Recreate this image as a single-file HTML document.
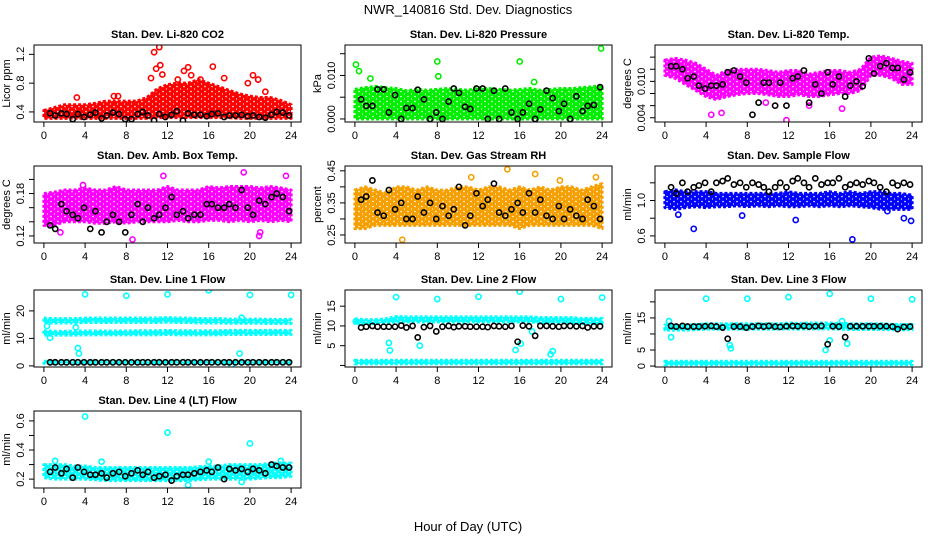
<!DOCTYPE html>
<html><head><meta charset="utf-8">
<style>
html,body{margin:0;padding:0;background:#fff;}
svg{display:block;font-family:"Liberation Sans",Arial,sans-serif;}
</style></head>
<body>
<svg id="chart" width="936" height="540" viewBox="0 0 936 540" xmlns="http://www.w3.org/2000/svg">
<rect width="936" height="540" fill="#fff"/>
<text x="468" y="14" text-anchor="middle" font-size="13">NWR_140816  Std. Dev. Diagnostics</text>
<text x="468" y="531" text-anchor="middle" font-size="13">Hour of Day (UTC)</text>
</svg>
<script>
// ---------- data ----------
const bandHours = [0,1,2,3,4,5,6,7,8,9,10,11,12,13,14,15,16,17,18,19,20,21,22,23,24];
const xTickLabels = ["0","4","8","12","16","20","24"];
const blackHours = [0.6,1.1,1.7,2.2,2.8,3.3,3.9,4.5,5.0,5.6,6.1,6.7,7.3,7.9,8.5,9.1,9.6,10.1,10.7,11.2,11.8,12.4,12.9,13.5,14.0,14.6,15.2,15.8,16.3,16.9,17.5,18.0,18.6,19.2,19.8,20.3,20.9,21.5,22.1,22.6,23.2,23.8];

// P1 CO2
const co2Lo = [0.31,0.31,0.31,0.31,0.31,0.31,0.31,0.31,0.31,0.31,0.31,0.32,0.32,0.32,0.32,0.32,0.32,0.32,0.32,0.31,0.31,0.31,0.31,0.31,0.31];
const co2Hi = [0.42,0.46,0.5,0.5,0.5,0.52,0.55,0.55,0.55,0.55,0.6,0.72,0.78,0.8,0.8,0.85,0.8,0.75,0.7,0.65,0.62,0.6,0.6,0.56,0.5];
const co2OutX = [10.7,11.2,11.3,10.9,11.5,10.4,13.6,14.0,14.3,16.4,17.5,19.8,20.3,20.8,3.2,6.8,7.2,21.5,13.0,15.2];
const co2OutY = [1.23,1.30,1.05,1.00,0.92,0.87,0.97,1.02,0.91,1.03,0.87,0.80,0.91,0.85,0.60,0.62,0.62,0.68,0.85,0.85];
const co2Black = [0.38,0.35,0.38,0.37,0.30,0.37,0.33,0.36,0.39,0.31,0.35,0.39,0.37,0.30,0.30,0.37,0.40,0.35,0.28,0.37,0.33,0.36,0.41,0.28,0.38,0.36,0.36,0.34,0.37,0.38,0.33,0.35,0.35,0.36,0.34,0.35,0.33,0.32,0.36,0.40,0.39,0.35];
// P2 Pressure
const presLo = [0,0,0,0,0,0,0,0,0,0,0,0,0,0,0,0,0,0,0,0,0,0,0,0,0];
const presHi = [0.0068,0.0072,0.0075,0.0072,0.007,0.0065,0.0068,0.0066,0.0068,0.007,0.0068,0.0066,0.0072,0.007,0.0068,0.0066,0.0068,0.007,0.0066,0.0068,0.007,0.007,0.0072,0.0074,0.0076];
const presOutX = [0.1,0.4,1.5,8.0,8.1,16.0,17.4,23.9];
const presOutY = [0.0125,0.0110,0.0093,0.0132,0.0098,0.0132,0.0085,0.0162];
const presBlack = [0.0045,0.003,0.003,0.0068,0.0068,0.0015,0.0055,0,0.0025,0.0025,0.0067,0.0045,0,0.0015,0,0.004,0.007,0.006,0.0028,0.0023,0.007,0.007,0,0.0065,0,0.007,0.0015,0,0.0015,0.0035,0,0.0022,0.0065,0.0048,0.0018,0.0035,0,0.0052,0.0018,0.003,0.0032,0.0073];
// P3 Temp
const tempLo = [0.011,0.0105,0.0095,0.0085,0.0075,0.007,0.0075,0.0078,0.008,0.008,0.0078,0.0075,0.0075,0.0078,0.0075,0.0075,0.0078,0.008,0.008,0.0085,0.011,0.011,0.0105,0.0095,0.0095];
const tempHi = [0.0135,0.0138,0.0135,0.013,0.012,0.011,0.0118,0.012,0.012,0.012,0.0118,0.0115,0.0118,0.0118,0.0112,0.0115,0.0118,0.0118,0.0115,0.012,0.014,0.0142,0.0138,0.0133,0.013];
const tempOutX = [4.5,5.5,11.8,17.2,3.8,9.8,14.0];
const tempOutY = [0.0045,0.0048,0.0036,0.0055,0.0095,0.0065,0.006];
const tempBlack = [0.0125,0.0125,0.012,0.0105,0.0108,0.0093,0.0088,0.0093,0.0093,0.0095,0.0115,0.0118,0.0108,0.0098,0.0045,0.0065,0.0098,0.0098,0.0060,0.0098,0.006,0.0105,0.0108,0.0118,0.0065,0.0095,0.0080,0.0115,0.0095,0.0108,0.0075,0.0093,0.0100,0.0092,0.0138,0.0113,0.0125,0.0130,0.0122,0.0122,0.0103,0.0115];
// P4 Amb box temp
const ambLo = [0.135,0.135,0.14,0.14,0.14,0.138,0.138,0.14,0.138,0.14,0.14,0.14,0.14,0.142,0.14,0.14,0.142,0.142,0.14,0.142,0.14,0.142,0.14,0.142,0.14];
const ambHi = [0.18,0.182,0.185,0.185,0.188,0.185,0.185,0.19,0.185,0.185,0.185,0.185,0.19,0.185,0.185,0.185,0.19,0.188,0.19,0.19,0.19,0.188,0.19,0.188,0.185];
const ambOutX = [8.6,19.4,23.5,3.8,1.6,11.6,21.0,20.9];
const ambOutY = [0.115,0.21,0.205,0.192,0.125,0.205,0.125,0.12];
const ambBlack = [0.135,0.13,0.165,0.155,0.15,0.145,0.16,0.13,0.155,0.125,0.14,0.15,0.14,0.125,0.15,0.165,0.14,0.16,0.145,0.15,0.16,0.175,0.15,0.155,0.145,0.15,0.15,0.165,0.165,0.16,0.16,0.165,0.16,0.185,0.16,0.15,0.17,0.165,0.175,0.18,0.175,0.155];
// P5 Gas stream RH
const rhLo = [0.27,0.27,0.28,0.28,0.28,0.28,0.28,0.28,0.28,0.28,0.28,0.28,0.28,0.28,0.28,0.28,0.27,0.28,0.28,0.28,0.28,0.28,0.28,0.28,0.27];
const rhHi = [0.39,0.4,0.39,0.38,0.4,0.4,0.39,0.4,0.39,0.39,0.4,0.4,0.39,0.4,0.4,0.39,0.4,0.39,0.4,0.39,0.4,0.4,0.39,0.4,0.41];
const rhOutX = [4.6,14.8,17.5,11.3,23.4,19.9];
const rhOutY = [0.235,0.455,0.44,0.43,0.43,0.42];
const rhBlack = [0.36,0.37,0.42,0.32,0.31,0.39,0.33,0.35,0.30,0.30,0.37,0.32,0.35,0.30,0.34,0.31,0.33,0.40,0.28,0.31,0.38,0.34,0.36,0.41,0.32,0.31,0.33,0.35,0.32,0.38,0.32,0.36,0.31,0.30,0.34,0.30,0.33,0.31,0.30,0.36,0.34,0.30];
// P6 Sample flow
const flowLo = [0.92,0.9,0.92,0.93,0.92,0.93,0.93,0.94,0.93,0.94,0.93,0.94,0.93,0.93,0.94,0.93,0.94,0.93,0.94,0.93,0.92,0.9,0.9,0.9,0.9];
const flowHi = [1.1,1.12,1.1,1.1,1.1,1.08,1.08,1.08,1.08,1.08,1.08,1.08,1.1,1.08,1.08,1.08,1.1,1.08,1.1,1.08,1.1,1.1,1.08,1.08,1.06];
const flowOutX = [2.8,18.2,12.7,1.3,23.9,7.5,21.6,23.2];
const flowOutY = [0.68,0.56,0.78,0.84,0.77,0.83,0.88,0.8];
const flowBlack = [1.15,1.08,1.2,1.1,1.15,1.17,1.2,1.1,1.2,1.22,1.25,1.18,1.2,1.15,1.2,1.18,1.15,1.1,1.15,1.2,1.15,1.22,1.25,1.2,1.15,1.25,1.18,1.2,1.2,1.25,1.15,1.18,1.2,1.18,1.22,1.2,1.15,1.1,1.2,1.17,1.2,1.18];
// P7 Line 1
const l1LoA = [15.6,15.6,15.6,15.6,15.8,15.8,15.8,15.8,15.8,15.8,15.8,15.8,15.9,15.8,15.8,15.6,15.6,15.6,15.5,15.5,15.5,15.5,15.4,15.4,15.4];
const l1HiA = [17.4,17.2,17.2,17.2,17.4,17.4,17.4,17.4,17.4,17.4,17.4,17.4,17.6,17.4,17.4,17.2,17.2,17.2,17.0,17.0,17.0,17.0,16.9,16.9,16.9];
const l1LoB = [11.2,11.2,11.2,11.2,11.3,11.3,11.3,11.3,11.3,11.3,11.3,11.3,11.4,11.3,11.3,11.3,11.3,11.3,11.4,11.4,11.4,11.4,11.4,11.4,11.4];
const l1HiB = [12.8,12.6,12.6,12.6,12.7,12.7,12.7,12.7,12.7,12.8,12.8,12.8,12.9,12.8,12.8,12.8,12.8,12.8,12.9,12.9,12.9,12.9,12.9,12.9,12.9];
const l1LoC = [0.9,0.9,0.9,0.9,0.9,0.9,0.9,0.9,0.9,0.9,0.9,0.9,0.9,0.9,0.9,0.9,0.9,0.9,0.9,0.9,0.9,0.9,0.9,0.9,0.9];
const l1HiC = [1.7,1.7,1.7,1.7,1.7,1.7,1.7,1.7,1.7,1.7,1.7,1.7,1.7,1.7,1.7,1.7,1.7,1.7,1.7,1.7,1.7,1.7,1.7,1.7,1.7];
const l1OutX = [4,8,12,16,20,24,3.3,3.4,3.1,0.6,19,19.2,0.3,18.2];
const l1OutY = [26,25.5,26,27.5,25.8,25.8,6.5,4.5,14,10.2,4.5,17.5,14.5,0.2];
const l1Black = [1.3,1.3,1.3,1.3,1.3,1.3,1.3,1.3,1.3,1.3,1.3,1.3,1.3,1.3,1.3,1.3,1.3,1.3,1.3,1.3,1.3,1.3,1.3,1.3,1.3,1.3,1.3,1.3,1.3,1.3,1.3,1.3,1.3,1.3,1.3,1.3,1.3,1.3,1.3,1.3,1.3,1.3];
// P8 Line 2
const l2LoA = [10.6,10.6,10.6,10.8,11.0,11.0,11.0,11.0,11.0,11.0,11.0,11.0,11.0,11.0,11.0,11.0,11.0,11.0,10.8,10.8,10.8,10.8,10.6,10.6,10.6];
const l2HiA = [11.8,11.6,11.6,11.8,12.4,12.3,12.3,12.3,12.3,12.3,12.3,12.3,12.3,12.3,12.3,12.3,12.3,12.3,12.1,12.1,12.1,12.1,11.9,11.9,11.9];
const l2LoB = [0.4,0.4,0.4,0.4,0.4,0.4,0.4,0.4,0.4,0.4,0.4,0.4,0.4,0.4,0.4,0.4,0.4,0.4,0.4,0.4,0.4,0.4,0.4,0.4,0.4];
const l2HiB = [1.3,1.3,1.3,1.3,1.3,1.3,1.3,1.3,1.3,1.3,1.3,1.3,1.3,1.3,1.3,1.3,1.3,1.3,1.3,1.3,1.3,1.3,1.3,1.3,1.3];
const l2OutX = [4,8,12,16,20,24,3.3,3.4,6.3,15.6,16.1,19,19.2,17.2,0.1];
const l2OutY = [17.3,16.8,17.4,18.7,16.8,17.2,5.7,3.8,5.0,3.9,5.5,2.8,3.6,8.6,11.2];
const l2Black = [9.6,9.8,10.0,9.8,9.8,9.8,9.8,10.1,9.6,10.0,7.1,9.7,10.0,8.6,9.8,10.0,9.7,9.9,9.9,9.8,9.8,9.8,9.7,10.0,9.9,9.8,10.0,6.0,10.1,9.9,7.5,10.0,10.0,9.9,9.8,10.0,10.0,9.9,10.0,9.6,9.9,9.9];
// P9 Line 3
const l3LoA = [11.2,11.2,11.2,11.3,11.5,11.5,11.5,11.5,11.5,11.5,11.5,11.5,11.6,11.5,11.6,11.6,11.6,11.5,11.4,11.4,11.4,11.4,11.3,11.3,11.3];
const l3HiA = [12.8,12.8,12.8,12.9,13.2,13.2,13.2,13.2,13.2,13.2,13.2,13.2,13.4,13.3,13.4,13.4,13.4,13.3,13.2,13.2,13.2,13.2,13.0,13.0,13.0];
const l3LoB = [0.4,0.4,0.4,0.4,0.4,0.4,0.4,0.4,0.4,0.4,0.4,0.4,0.4,0.4,0.4,0.4,0.4,0.4,0.4,0.4,0.4,0.4,0.4,0.4,0.4];
const l3HiB = [1.5,1.5,1.5,1.5,1.5,1.5,1.5,1.5,1.5,1.5,1.5,1.5,1.5,1.5,1.5,1.5,1.5,1.5,1.5,1.5,1.5,1.5,1.5,1.5,1.5];
const l3OutX = [4,8,12,16,20,24,0.6,6.3,15.6,16.0,17.7,0.4,6.4,17.2];
const l3OutY = [21,21,21.5,22.5,21,20.8,9,6.5,5,8,7,14,5.5,14];
const l3Black = [12.5,12.3,12.5,12.3,12.3,12.3,12.4,12.5,12.3,12.0,8.5,12.3,12.3,12.0,12.3,12.5,12.3,12.5,12.3,12.2,12.4,12.5,12.4,12.5,12.3,12.4,12.5,6.8,12.4,12.3,9.0,12.4,12.4,12.4,12.4,12.4,12.4,12.4,12.3,11.5,12.2,12.3];
// P10 Line 4
const l4Lo = [0.21,0.2,0.2,0.2,0.2,0.195,0.19,0.19,0.19,0.19,0.19,0.19,0.19,0.19,0.19,0.195,0.2,0.2,0.2,0.2,0.2,0.205,0.21,0.21,0.22];
const l4Hi = [0.3,0.3,0.3,0.29,0.29,0.28,0.28,0.28,0.28,0.28,0.28,0.28,0.28,0.28,0.28,0.285,0.29,0.29,0.3,0.3,0.3,0.3,0.31,0.31,0.31];
const l4OutX = [4,12,20,5.6,16,14,1.1,19.2,23];
const l4OutY = [0.63,0.52,0.445,0.32,0.32,0.16,0.325,0.18,0.325];
const l4Black = [0.25,0.28,0.24,0.27,0.21,0.28,0.25,0.23,0.23,0.24,0.21,0.24,0.25,0.22,0.24,0.26,0.23,0.25,0.21,0.22,0.23,0.19,0.22,0.23,0.23,0.24,0.25,0.26,0.25,0.28,0.2,0.27,0.26,0.27,0.25,0.27,0.26,0.24,0.3,0.29,0.28,0.28];

// ---------- layout / styles (not data) ----------
const colX=[34,345,655], rowY=[45,166,290,411], BW=267, BH=77;
const panels=[
 {name:"co2",title:"Stan. Dev. Li-820 CO2",ylab:"Licor ppm",c:0,r:0,ylim:[0.26,1.33],ticks:[0.4,0.8,1.2],tl:["0.4","0.8","1.2"],minor:[],col:"#ff0000",bands:[[co2Lo,co2Hi]],ox:co2OutX,oy:co2OutY,bk:co2Black},
 {name:"pressure",title:"Stan. Dev. Li-820 Pressure",ylab:"kPa",c:1,r:0,ylim:[-0.0007,0.017],ticks:[0,0.01],tl:["0.000","0.010"],minor:[0.005,0.015],col:"#00ee00",bands:[[presLo,presHi]],ox:presOutX,oy:presOutY,bk:presBlack},
 {name:"temp",title:"Stan. Dev. Li-820 Temp.",ylab:"degrees C",c:2,r:0,ylim:[0.0033,0.016],ticks:[0.004,0.01],tl:["0.004","0.010"],minor:[0.006,0.008,0.012,0.014],col:"#ff00ff",bands:[[tempLo,tempHi]],ox:tempOutX,oy:tempOutY,bk:tempBlack},
 {name:"amb-box-temp",title:"Stan. Dev. Amb. Box Temp.",ylab:"degrees C",c:0,r:1,ylim:[0.11,0.219],ticks:[0.12,0.18],tl:["0.12","0.18"],minor:[0.14,0.16,0.2],col:"#ff00ff",bands:[[ambLo,ambHi]],ox:ambOutX,oy:ambOutY,bk:ambBlack},
 {name:"gas-stream-rh",title:"Stan. Dev. Gas Stream RH",ylab:"percent",c:1,r:1,ylim:[0.225,0.465],ticks:[0.25,0.35,0.45],tl:["0.25","0.35","0.45"],minor:[0.3,0.4],col:"#f5a000",bands:[[rhLo,rhHi]],ox:rhOutX,oy:rhOutY,bk:rhBlack},
 {name:"sample-flow",title:"Stan. Dev. Sample Flow",ylab:"ml/min",c:2,r:1,ylim:[0.52,1.39],ticks:[0.6,1.0],tl:["0.6","1.0"],minor:[0.8,1.2],col:"#0000ff",bands:[[flowLo,flowHi]],ox:flowOutX,oy:flowOutY,bk:flowBlack},
 {name:"line1-flow",title:"Stan. Dev. Line 1 Flow",ylab:"ml/min",c:0,r:2,ylim:[-0.4,27.6],ticks:[0,10,20],tl:["0","10","20"],minor:[],col:"#00ffff",bands:[[l1LoA,l1HiA],[l1LoB,l1HiB],[l1LoC,l1HiC]],ox:l1OutX,oy:l1OutY,bk:l1Black},
 {name:"line2-flow",title:"Stan. Dev. Line 2 Flow",ylab:"ml/min",c:1,r:2,ylim:[-0.4,19.1],ticks:[5,10,15],tl:["5","10","15"],minor:[0],col:"#00ffff",bands:[[l2LoA,l2HiA],[l2LoB,l2HiB]],ox:l2OutX,oy:l2OutY,bk:l2Black},
 {name:"line3-flow",title:"Stan. Dev. Line 3 Flow",ylab:"ml/min",c:2,r:2,ylim:[-0.3,23.7],ticks:[0,5,15],tl:["0","5","15"],minor:[10,20],col:"#00ffff",bands:[[l3LoA,l3HiA],[l3LoB,l3HiB]],ox:l3OutX,oy:l3OutY,bk:l3Black},
 {name:"line4-flow",title:"Stan. Dev. Line 4 (LT) Flow",ylab:"ml/min",c:0,r:3,ylim:[0.139,0.668],ticks:[0.2,0.4,0.6],tl:["0.2","0.4","0.6"],minor:[0.3,0.5],col:"#00ffff",bands:[[l4Lo,l4Hi]],ox:l4OutX,oy:l4OutY,bk:l4Black}
];
const NS="http://www.w3.org/2000/svg";
const svg=document.getElementById("chart");
function mk(tag,attrs,parent){const e=document.createElementNS(NS,tag);for(const k in attrs)e.setAttribute(k,attrs[k]);(parent||svg).appendChild(e);return e;}
const defs=mk("defs",{});
panels.forEach(p=>{
 const bx=colX[p.c], by=rowY[p.r];
 const g=mk("g",{});
 
 
 const xs=h=>bx+(h+0.96)/25.92*BW;
 const ys=v=>by+BH-(v-p.ylim[0])/(p.ylim[1]-p.ylim[0])*BH;
 const clip="clip-"+p.name;
 const cp=mk("clipPath",{id:clip},g);mk("rect",{x:bx,y:by,width:BW,height:BH},cp);
 // speckle texture pattern
 const pid="pat-"+p.name;
 const pat=mk("pattern",{id:pid,width:7,height:5,patternUnits:"userSpaceOnUse"},defs);
 mk("rect",{width:7,height:5,fill:p.col},pat);
 mk("circle",{cx:2,cy:1.5,r:0.8,fill:"#fff"},pat);
 mk("circle",{cx:5.5,cy:4,r:0.6,fill:"#fff"},pat);
 const plot=mk("g",{"clip-path":"url(#"+clip+")"},g);
 p.bands.forEach(([lo,hi])=>{
  let pts=bandHours.map((h,i)=>xs(h)+","+ys(hi[i]));
  for(let i=bandHours.length-1;i>=0;i--)pts.push(xs(bandHours[i])+","+ys(lo[i]));
  const b=mk("polygon",{points:pts.join(" "),fill:"url(#"+pid+")",stroke:p.col,"stroke-width":3,"stroke-linejoin":"round","stroke-dasharray":"3 2"},plot);
  
  
 });
 p.ox.forEach((h,i)=>{
  const c=mk("circle",{cx:xs(h),cy:ys(p.oy[i]),r:2.6,fill:"none",stroke:p.col,"stroke-width":1.6},plot);
  
  
 });
 blackHours.forEach((h,i)=>{
  const c=mk("circle",{cx:xs(h),cy:ys(p.bk[i]),r:2.6,fill:"none",stroke:"#000","stroke-width":1.6},plot);
  
  
 });
 mk("rect",{x:bx,y:by,width:BW,height:BH,fill:"none",stroke:"#000","stroke-width":1},g);
 const t=mk("text",{x:bx+BW/2,y:by-7,"text-anchor":"middle","font-size":11,"font-weight":"bold"},g);
 t.textContent=p.title;
 
 
 xTickLabels.forEach(l=>{
  const x=xs(+l);
  mk("line",{x1:x,y1:by+BH,x2:x,y2:by+BH+5,stroke:"#000"},g);
  const tx=mk("text",{x:x,y:by+BH+17,"text-anchor":"middle","font-size":11},g);
  tx.textContent=l;
  
  
 });
 p.ticks.forEach((v,i)=>{
  const y=ys(v);
  mk("line",{x1:bx,y1:y,x2:bx-5,y2:y,stroke:"#000"},g);
  const tx=mk("text",{x:bx-10,y:y,"text-anchor":"middle","font-size":11,transform:"rotate(-90 "+(bx-10)+" "+y+")"},g);
  tx.textContent=p.tl[i];
  
  
 });
 p.minor.forEach(v=>{
  const y=ys(v); if(y<by||y>by+BH)return;
  mk("line",{x1:bx,y1:y,x2:bx-5,y2:y,stroke:"#000"},g);
 });
 const yl=mk("text",{x:bx-24,y:by+BH/2,"text-anchor":"middle","font-size":11,transform:"rotate(-90 "+(bx-24)+" "+(by+BH/2)+")"},g);
 yl.textContent=p.ylab;
 
 
});
</script>
</body></html>
